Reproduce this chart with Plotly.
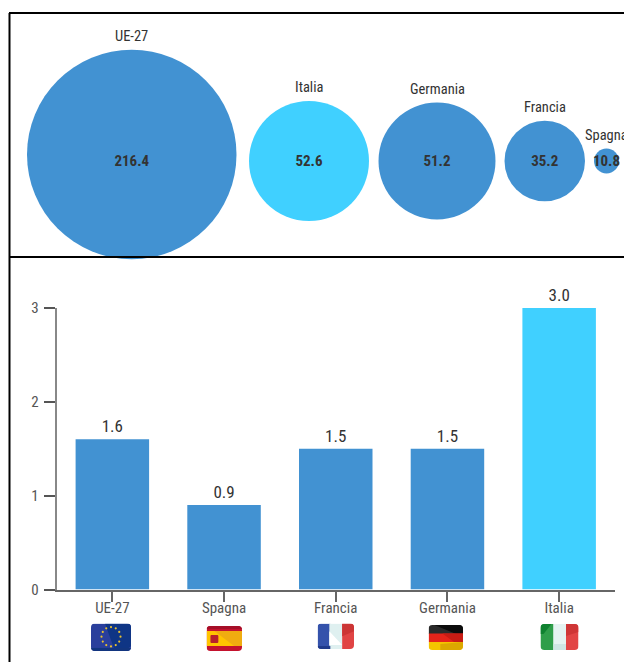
import base64
import math
import plotly.graph_objects as go

# Bubble panel: totals by area
bubble_names = ["UE-27", "Italia", "Germania", "Francia", "Spagna"]
bubble_values = [216.4, 52.6, 51.2, 35.2, 10.8]

# Bar panel: rates by area
bar_names = ["UE-27", "Spagna", "Francia", "Germania", "Italia"]
bar_values = [1.6, 0.9, 1.5, 1.5, 3.0]
y_ticks = [0, 1, 2, 3]

# Styling
BLUE = "#4292d2"
CYAN = "#40d0ff"
FONT = "'Roboto Condensed', 'Liberation Sans Narrow', Roboto, sans-serif"
W, H = 624, 662
bubble_diameters = [209.5, 120, 117, 80.5, 25]
bubble_gaps = [12.5, 9.5, 9, 9]
bubble_start = 27
bubble_mid = 148       # panel-relative height of the shared centre line
bubble_lift = [6.5, 0, 0, 0, 0]
value_drop = 0.8
PANEL_TOP, PANEL_BOTTOM = 13, 257
PLOT_LEFT, PLOT_RIGHT, PLOT_TOP, PLOT_BASE = 56.5, 615, 308, 589.5


def bubble_layout():
    xs, left = [], bubble_start
    for i, d in enumerate(bubble_diameters):
        xs.append(left + d / 2)
        if i < len(bubble_gaps):
            left += d + bubble_gaps[i]
    return xs


def svg_uri(body, w, h):
    svg = (f'<svg xmlns="http://www.w3.org/2000/svg" viewBox="0 0 {w} {h}" '
           f'preserveAspectRatio="none"><defs><clipPath id="c"><rect width="{w}" '
           f'height="{h}" rx="4"/></clipPath></defs><g clip-path="url(#c)">{body}</g></svg>')
    return "data:image/svg+xml;base64," + base64.b64encode(svg.encode()).decode()


def eu_flag():
    w, h = 40, 27
    stars = ""
    for k in range(12):
        a = 2 * math.pi * k / 12
        stars += (f'<circle cx="{20 + 9.5 * math.sin(a):.2f}" '
                  f'cy="{13 - 9.5 * math.cos(a):.2f}" r="1.1" fill="#e8c030"/>')
    body = (f'<rect width="{w}" height="{h}" fill="#2a3f9c"/>'
            f'<polygon points="14,0 40,0 40,22 34,27 24,27" fill="#0f3585"/>'
            f'<rect y="24" width="{w}" height="3" fill="#12357f"/>' + stars)
    return svg_uri(body, w, h)


def spain_flag():
    w, h = 36, 25
    body = (f'<rect width="{w}" height="{h}" fill="#c4122e"/>'
            f'<rect y="5" width="{w}" height="15" fill="#ffc400"/>'
            f'<polygon points="8,5 36,5 36,20 28,20" fill="#f0ac10"/>'
            f'<rect y="0" width="{w}" height="3" fill="#a50f28"/>'
            f'<rect x="4" y="9" width="8" height="8" rx="1" fill="#b8202a"/>')
    return svg_uri(body, w, h)


def france_flag():
    w, h = 37, 26
    body = (f'<rect width="13" height="{h}" fill="#3452ab"/>'
            f'<rect x="12" width="13" height="{h}" fill="#dff0f0"/>'
            f'<polygon points="12,8 25,22 12,22" fill="#ffffff"/>'
            f'<rect x="25" width="12" height="{h}" fill="#e04444"/>'
            f'<polygon points="25,0 37,0 37,8 25,13" fill="#cc3535"/>'
            f'<rect y="23" width="13" height="3" fill="#1f3a8a"/>')
    return svg_uri(body, w, h)


def germany_flag():
    w, h = 35, 25
    body = (f'<rect width="{w}" height="9" fill="#2a2a2a"/>'
            f'<polygon points="6,0 35,0 35,9 28,9" fill="#0c0c0c"/>'
            f'<rect y="8.5" width="{w}" height="8.5" fill="#e5241a"/>'
            f'<polygon points="14,8.5 35,8.5 35,17 26,17" fill="#c81c14"/>'
            f'<rect y="17" width="{w}" height="8" fill="#f4c400"/>'
            f'<polygon points="12,19 35,17 35,25 12,25" fill="#dca800"/>')
    return svg_uri(body, w, h)


def italy_flag():
    w, h = 38, 26
    body = (f'<rect width="13" height="{h}" fill="#2f9e4a"/>'
            f'<polygon points="0,0 11,0 3,10 0,10" fill="#0f8230"/>'
            f'<rect x="13" width="13" height="{h}" fill="#e5f3f1"/>'
            f'<rect x="13" y="20" width="13" height="6" fill="#cfe6e4"/>'
            f'<rect x="25.5" width="12.5" height="{h}" fill="#e24545"/>'
            f'<polygon points="25.5,0 38,0 38,8 25.5,12" fill="#cf3636"/>')
    return svg_uri(body, w, h)


bx = bubble_layout()
# The panel axis counts downward from the panel's top edge
by = [bubble_mid - lift for lift in bubble_lift]
value_y = [bubble_mid + value_drop] * len(bubble_values)
bubble_colors = [CYAN if n == "Italia" else BLUE for n in bubble_names]
bar_colors = [CYAN if n == "Italia" else BLUE for n in bar_names]

fig = go.Figure()

fig.add_trace(go.Scatter(
    x=bx, y=by, xaxis="x2", yaxis="y2", mode="markers", cliponaxis=False,
    marker=dict(size=bubble_diameters, sizemode="diameter", color=bubble_colors,
                opacity=1, line=dict(width=0)),
    hoverinfo="skip", showlegend=False,
))
fig.add_trace(go.Scatter(
    x=bx, y=value_y, xaxis="x2", yaxis="y2", mode="text", cliponaxis=False,
    text=[f"{v:.1f}" for v in bubble_values], textposition="middle center",
    textfont=dict(family=FONT, size=15, color="#333333", weight="bold"),
    hoverinfo="skip", showlegend=False,
))
fig.add_trace(go.Bar(
    x=bar_names, y=bar_values, xaxis="x", yaxis="y",
    marker=dict(color=bar_colors, line=dict(width=0)),
    text=[f"{v:.1f}" for v in bar_values], textposition="outside",
    cliponaxis=False, textfont=dict(family=FONT, size=17, color="#333333"),
    hoverinfo="skip", showlegend=False,
))

annotations = []
for name, cx, cy, d in zip(bubble_names, bx, by, bubble_diameters):
    annotations.append(dict(
        x=cx, y=cy - d / 2, xref="x2", yref="y2", text=name, showarrow=False,
        xanchor="center", yanchor="bottom", yshift=3,
        font=dict(family=FONT, size=14.5, color="#333333"),
    ))

# Thick frame around the bubble panel and down the left side of the bar panel
frame = dict(type="line", xref="paper", yref="paper", line=dict(color="#000000", width=2))
shapes = [
    dict(frame, x0=9.5 / W, x1=9.5 / W, y0=0, y1=1 - PANEL_TOP / H),
    dict(frame, x0=9 / W, x1=1, y0=1 - PANEL_TOP / H, y1=1 - PANEL_TOP / H),
    dict(frame, x0=9 / W, x1=1, y0=1 - PANEL_BOTTOM / H, y1=1 - PANEL_BOTTOM / H),
]

flag_boxes = [
    (eu_flag(), 91, 623.5, 40, 27.5),
    (spain_flag(), 206.5, 626, 35.5, 25),
    (france_flag(), 317.5, 623.5, 36.5, 25.5),
    (germany_flag(), 428.5, 625, 34.5, 25),
    (italy_flag(), 540.5, 624, 38, 26),
]
images = [
    dict(source=src, xref="paper", yref="paper", x=x / W, y=1 - y / H,
         sizex=w / W, sizey=h / H, xanchor="left", yanchor="top",
         sizing="stretch", layer="above")
    for src, x, y, w, h in flag_boxes
]

fig.update_layout(
    width=W, height=H, margin=dict(l=0, r=0, t=0, b=0, autoexpand=False),
    paper_bgcolor="#ffffff", plot_bgcolor="#ffffff", showlegend=False,
    bargap=0.342, shapes=shapes, annotations=annotations, images=images,
    xaxis=dict(
        domain=[PLOT_LEFT / W, PLOT_RIGHT / W], type="category",
        categoryorder="array", categoryarray=bar_names, range=[-0.5, 4.5],
        showline=True, linecolor="#666666", linewidth=1.5, showgrid=False,
        ticks="outside", ticklen=11, tickcolor="#666666", tickwidth=1.5,
        ticklabelstandoff=-7,
        tickfont=dict(family=FONT, size=15, color="#555555"), zeroline=False,
    ),
    yaxis=dict(
        domain=[1 - PLOT_BASE / H, 1 - PLOT_TOP / H], range=[0, 3],
        tickvals=y_ticks, showline=True, linecolor="#888888", linewidth=1.5,
        showgrid=False, zeroline=False, ticks="outside", ticklen=11,
        tickcolor="#555555", tickwidth=1.5, ticklabelstandoff=2,
        tickfont=dict(family=FONT, size=15, color="#555555"),
    ),
    xaxis2=dict(domain=[0, 1], range=[0, W], visible=False, anchor="y2"),
    yaxis2=dict(domain=[1 - PANEL_BOTTOM / H, 1 - PANEL_TOP / H],
                range=[PANEL_BOTTOM - PANEL_TOP, 0], visible=False, anchor="x2"),
)

fig.write_html("out.html", config=dict(displayModeBar=False))
